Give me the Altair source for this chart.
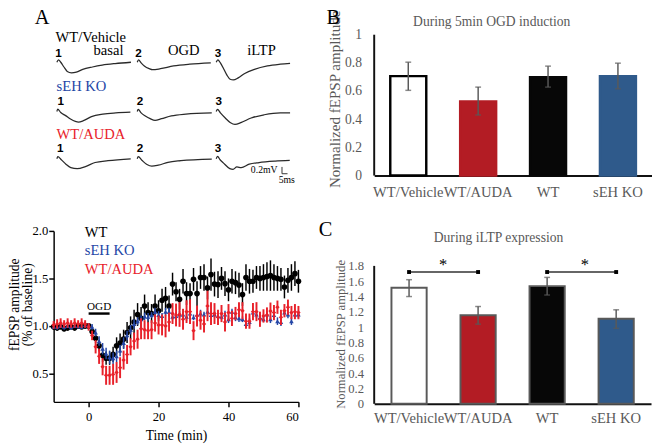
import altair as alt
import pandas as pd

SERIF = "Liberation Serif"
SANS = "Liberation Sans"
GRAY = "#595959"

# ---------------- Panel B / C : bar data ----------------
groups = ["WT/Vehicle", "WT/AUDA", "WT", "sEH KO"]
bar_fill = ["#ffffff", "#b31c24", "#070707", "#2f5a8b"]
bar_edge_b = ["#000000", "#b31c24", "#070707", "#2f5a8b"]

ogd_mean = [0.706, 0.526, 0.699, 0.706]
ogd_lo = [0.605, 0.430, 0.628, 0.616]
ogd_hi = [0.805, 0.628, 0.777, 0.798]

iltp_mean = [1.515, 1.155, 1.536, 1.110]
iltp_lo = [1.400, 1.040, 1.420, 0.985]
iltp_hi = [1.620, 1.270, 1.650, 1.227]

sig_pairs = [("WT/Vehicle", "WT/AUDA"), ("WT", "sEH KO")]
sig_level = 1.72

# ---------------- Time course data ----------------
times = list(range(-10, 61))
wt_mean = [0.99, 0.98, 0.99, 0.97, 0.98, 0.99, 0.98, 1.00, 0.99, 1.00,
           1.00,
           0.94, 0.87, 0.79, 0.69, 0.66, 0.66, 0.70, 0.79, 0.82, 0.86, 0.93, 0.98, 1.04, 1.12, 1.08,
           1.21, 1.14, 1.13, 1.21, 1.16, 1.27, 1.29, 1.21, 1.44, 1.36, 1.28, 1.47, 1.34, 1.34, 1.49,
           1.34, 1.51, 1.51, 1.40, 1.54, 1.44,
           1.435, 1.50, 1.445, 1.38, 1.47, 1.455, 1.43, 1.33, 1.51, 1.47, 1.47, 1.51, 1.50, 1.51,
           1.52, 1.53, 1.51, 1.50, 1.49, 1.41, 1.48, 1.51, 1.55, 1.47]
wt_err = [0.03, 0.03, 0.02, 0.03, 0.03, 0.02, 0.03, 0.03, 0.02, 0.03,
          0.03,
          0.04, 0.05, 0.06, 0.07, 0.07, 0.07, 0.08, 0.09, 0.10, 0.10, 0.11, 0.12, 0.13, 0.12, 0.12,
          0.12, 0.11, 0.10, 0.12, 0.11, 0.12, 0.12, 0.11, 0.12, 0.10, 0.11, 0.13, 0.12, 0.11, 0.12,
          0.13, 0.12, 0.14, 0.12, 0.17, 0.13,
          0.14, 0.12, 0.13, 0.12, 0.13, 0.12, 0.13, 0.12, 0.14, 0.13, 0.12, 0.12, 0.13, 0.14,
          0.15, 0.16, 0.14, 0.13, 0.12, 0.12, 0.13, 0.14, 0.13, 0.12]

ko_mean = [0.99, 0.99, 1.00, 0.99, 1.00, 0.99, 1.00, 1.00, 0.99, 1.01,
           1.00,
           0.99, 0.93, 0.84, 0.76, 0.71, 0.67, 0.66, 0.68, 0.74, 0.82, 0.90, 0.96, 1.02, 1.05, 1.07,
           1.10, 1.095, 1.115, 1.15, 1.115, 1.105, 1.15, 1.15, 1.095, 1.105, 1.12, 1.12, 1.095, 1.13,
           1.09, 1.12, 1.13, 1.12, 1.15, 1.115, 1.12,
           1.105, 1.095, 1.12, 1.07, 1.15, 1.09, 1.08, 1.07, 1.02, 1.04, 1.14, 1.12, 1.09, 1.07,
           1.12, 1.07, 1.115, 1.05, 1.04, 1.14, 1.12, 1.05, 1.12, 1.12]
ko_err = [0.02, 0.03, 0.02, 0.03, 0.02, 0.03, 0.02, 0.03, 0.02, 0.03,
          0.03,
          0.03, 0.04, 0.05, 0.06, 0.06, 0.07, 0.06, 0.06, 0.06, 0.06, 0.05, 0.05, 0.05, 0.04, 0.04,
          0.04, 0.04, 0.03, 0.04, 0.04, 0.03, 0.04, 0.04, 0.03, 0.04, 0.04, 0.03, 0.04, 0.04, 0.03,
          0.04, 0.04, 0.03, 0.04, 0.04, 0.03,
          0.04, 0.03, 0.04, 0.04, 0.03, 0.04, 0.04, 0.03, 0.04, 0.04, 0.03, 0.04, 0.04, 0.03,
          0.04, 0.04, 0.03, 0.04, 0.04, 0.03, 0.04, 0.04, 0.03, 0.04]

auda_mean = [1.01, 1.02, 1.03, 1.02, 1.03, 1.02, 1.03, 1.02, 1.03, 1.02,
             0.99,
             0.90, 0.78, 0.68, 0.57, 0.48, 0.48, 0.49, 0.51, 0.56, 0.64, 0.70, 0.78, 0.84, 0.86, 0.97,
             0.96, 0.95, 0.96, 1.03, 1.01, 1.01, 1.00, 1.04, 1.13, 1.115, 1.12, 1.07, 1.15, 1.15,
             0.95, 1.105, 1.06, 1.02, 1.21, 1.13, 1.13,
             1.09, 1.13, 1.04, 1.14, 1.08, 1.13, 1.17, 1.16, 1.05, 1.05, 1.15, 1.15, 1.07, 1.105,
             1.115, 1.156, 1.14, 1.197, 1.09, 1.16, 1.197, 1.14, 1.15, 1.14]
auda_err = [0.04, 0.05, 0.05, 0.04, 0.05, 0.04, 0.05, 0.04, 0.05, 0.04,
            0.04,
            0.05, 0.07, 0.08, 0.09, 0.10, 0.10, 0.11, 0.11, 0.11, 0.10, 0.10, 0.09, 0.09, 0.10, 0.11,
            0.10, 0.09, 0.10, 0.09, 0.10, 0.11, 0.12, 0.10, 0.11, 0.12, 0.13, 0.11, 0.12, 0.13,
            0.10, 0.11, 0.10, 0.09, 0.16, 0.12, 0.11,
            0.08, 0.09, 0.10, 0.09, 0.08, 0.07, 0.08, 0.09, 0.08, 0.08, 0.09, 0.10, 0.08, 0.07,
            0.08, 0.09, 0.08, 0.07, 0.08, 0.07, 0.08, 0.07, 0.08, 0.07]

ogd_window = [0, 6]
ogd_bar_level = 1.13

# ---------------- Panel A : example traces (ms, mV) ----------------
tr_veh_basal_ms = [0, 1.5, 3.5, 6.4, 9.4, 13.2, 17.6, 23.4, 32.2, 41, 52.7, 67]
tr_veh_basal_mv = [0, 0.07, 0, -0.14, -0.27, -0.31, -0.29, -0.21, -0.14, -0.086, -0.04, 0]
tr_veh_ogd_ms = [0, 1.2, 3.5, 6.4, 10.8, 13.8, 21, 32.8, 47.5, 66.5]
tr_veh_ogd_mv = [0, 0.07, -0.02, -0.11, -0.19, -0.22, -0.19, -0.11, -0.057, -0.02]
tr_veh_iltp_ms = [0, 1.5, 3.8, 6.7, 9.7, 12.6, 15.5, 19.9, 25.8, 34.6, 46.3, 58, 66.8]
tr_veh_iltp_mv = [0, 0.07, -0.02, -0.19, -0.38, -0.50, -0.52, -0.46, -0.33, -0.21, -0.11, -0.057, -0.03]
tr_ko_basal_ms = [0, 0.8, 3.5, 7.9, 12.3, 16.7, 19.6, 24, 31.3, 41.6, 53.3, 66.5]
tr_ko_basal_mv = [0, 0.07, -0.03, -0.12, -0.22, -0.29, -0.31, -0.27, -0.15, -0.076, -0.04, -0.02]
tr_ko_ogd_ms = [0, 0.9, 3.5, 7.3, 11.7, 16.1, 22, 30.8, 44, 67.4]
tr_ko_ogd_mv = [0, 0.06, -0.04, -0.13, -0.21, -0.26, -0.21, -0.13, -0.076, -0.04]
tr_ko_iltp_ms = [0, 1.2, 3.8, 8.2, 12.6, 17, 22.8, 31.6, 43.4, 58, 66.8]
tr_ko_iltp_mv = [0, 0.06, -0.04, -0.19, -0.32, -0.38, -0.32, -0.19, -0.095, -0.04, -0.04]
tr_auda_basal_ms = [0, 0.9, 3.8, 8.2, 12.6, 18.4, 25.8, 34.6, 46.3, 66.8]
tr_auda_basal_mv = [0, 0.06, -0.02, -0.16, -0.26, -0.29, -0.23, -0.11, -0.057, 0]
tr_auda_ogd_ms = [0, 0.9, 4.4, 8.8, 13.2, 19, 27.8, 39.5, 67.4]
tr_auda_ogd_mv = [0, 0.06, -0.05, -0.17, -0.22, -0.19, -0.105, -0.057, -0.01]
tr_auda_iltp_ms = [0, 1.2, 3.5, 6.4, 12.3, 15.2, 18.7, 22.6, 29.9, 38.7, 53.3, 66.5]
tr_auda_iltp_mv = [0, 0.07, -0.03, -0.12, -0.29, -0.31, -0.24, -0.26, -0.16, -0.11, -0.067, -0.048]

scalebar_ms = 5
scalebar_mv = 0.2

# layout of the trace grid (sweep start in ms along the panel, row baseline in mV)
sweep_start_ms = [2.9, 75.6, 147.0]
row_base_mv = [-0.81, -2.26, -3.65]
traces = [
    (0, 0, tr_veh_basal_ms, tr_veh_basal_mv), (0, 1, tr_veh_ogd_ms, tr_veh_ogd_mv),
    (0, 2, tr_veh_iltp_ms, tr_veh_iltp_mv),
    (1, 0, tr_ko_basal_ms, tr_ko_basal_mv), (1, 1, tr_ko_ogd_ms, tr_ko_ogd_mv),
    (1, 2, tr_ko_iltp_ms, tr_ko_iltp_mv),
    (2, 0, tr_auda_basal_ms, tr_auda_basal_mv), (2, 1, tr_auda_ogd_ms, tr_auda_ogd_mv),
    (2, 2, tr_auda_iltp_ms, tr_auda_iltp_mv),
]
rows = []
for r, c, ms, mv in traces:
    for i, (a, b) in enumerate(zip(ms, mv)):
        rows.append({"trace": f"{r}-{c}", "i": i,
                     "x": sweep_start_ms[c] + a, "y": row_base_mv[r] + b})
trace_df = pd.DataFrame(rows)


def label(text, px, py, size=15, color="#000000", font=SERIF, weight="normal",
          align="left", baseline="middle", angle=0):
    return alt.Chart(pd.DataFrame({"t": [text]})).mark_text(
        font=font, fontSize=size, color=color, fontWeight=weight, align=align,
        baseline=baseline, angle=angle).encode(text="t:N", x=alt.value(px), y=alt.value(py))


# ---------------- Panel A ----------------
ax_x = alt.X("x:Q", scale=alt.Scale(domain=[0, 224], nice=False), axis=None)
ax_y = alt.Y("y:Q", scale=alt.Scale(domain=[-4.43, 0], nice=False), axis=None)
trace_lines = alt.Chart(trace_df).mark_line(color="#2a2a2a", strokeWidth=1.3,
                                            interpolate="monotone").encode(
    x=ax_x, y=ax_y, detail="trace:N", order="i:Q")

sb = pd.DataFrame({"x": [206.5], "y": [-4.09]})
sb_v = alt.Chart(sb).mark_rule(color="#333", strokeWidth=1).encode(
    x=ax_x, y=ax_y, y2=alt.datum(-4.09 + scalebar_mv))
sb_h = alt.Chart(sb).mark_rule(color="#333", strokeWidth=1).encode(
    x=ax_x, x2=alt.datum(206.5 + scalebar_ms), y=ax_y)

a_labels = [
    label("A", -12, -11, size=21, align="center", baseline="alphabetic"),
    label("WT/Vehicle", 2, 2),
    label("basal", 56.5, 16, align="center"),
    label("OGD", 134, 16, align="center"),
    label("iLTP", 214, 16, align="center"),
    label("sEH KO", 3, 53.3, color="#2446a6"),
    label("WT/AUDA", 3, 102.3, color="#e8212a"),
    label("0.2mV", 230.5, 139, size=10, align="right"),
    label("5ms", 240, 150, size=10, align="center"),
]
for (py, xs) in [(18.5, [5, 87.3, 169.3]), (68.3, [7.3, 89, 170]), (116.7, [6.7, 89, 169.3])]:
    for k, px in enumerate(xs):
        a_labels.append(label(str(k + 1), px, py, size=12, font=SANS, weight="bold",
                              align="center"))

panel_a = alt.layer(trace_lines, sb_v, sb_h, *a_labels).properties(width=255, height=155)

# ---------------- Time course panel ----------------
TSCALE_X = alt.Scale(domain=[-10, 60], nice=False)
tx_axis = alt.Axis(values=[0, 20, 40, 60], format="d", title="Time (min)",
                   tickSize=5, labelPadding=4, titlePadding=6,
                   domainColor="#000", domainWidth=1.5, tickColor="#000", tickWidth=1.5,
                   labelFont=SERIF, labelFontSize=13, labelColor="#000",
                   titleFont=SERIF, titleFontSize=14, titleFontWeight="normal",
                   titleColor="#000")
ty_axis = alt.Axis(values=[0.5, 1.0, 1.5, 2.0], format=".1f", title=None,
                   tickSize=5, labelPadding=1, domainColor="#000", domainWidth=1.5,
                   tickColor="#000", tickWidth=1.5, labelFont=SERIF, labelFontSize=13,
                   labelColor="#000")
tscale = alt.Scale(domain=[0.2, 2.0], nice=False)


def TX(field):
    return alt.X(field, scale=TSCALE_X, axis=tx_axis, title="Time (min)")


def TY(field):
    return alt.Y(field, scale=tscale, axis=ty_axis, title=None)


def series(mean, err, color, shape, size, ew):
    df = pd.DataFrame({"t": times, "m": mean,
                       "lo": [a - b for a, b in zip(mean, err)],
                       "hi": [a + b for a, b in zip(mean, err)]})
    base = alt.Chart(df)
    bars = base.mark_rule(color=color, strokeWidth=ew).encode(
        x=TX("t:Q"), y=TY("lo:Q"), y2="hi:Q")
    pts = base.mark_point(color=color, fill=color, filled=True, shape=shape, size=size,
                          opacity=1).encode(x=TX("t:Q"), y=TY("m:Q"))
    return [bars, pts]


ogd_df = pd.DataFrame({"s": [ogd_window[0]], "e": [ogd_window[1]], "y": [ogd_bar_level]})
ogd_rule = alt.Chart(ogd_df).mark_rule(color="#000", strokeWidth=2.5).encode(
    x=TX("s:Q"), x2="e:Q", y=TY("y:Q"))
ogd_text = alt.Chart(ogd_df).mark_text(font=SERIF, fontSize=11.5, baseline="bottom",
                                       dy=-2).encode(
    x=TX("mid:Q"), y=TY("y:Q"), text=alt.value("OGD")
).transform_calculate(mid="(datum.s + datum.e) / 2")

panel_tc = alt.layer(
    *series(wt_mean, wt_err, "#000000", "circle", 34, 1.5),
    *series(ko_mean, ko_err, "#2446a6", "triangle-up", 22, 1.5),
    *series(auda_mean, auda_err, "#e8212a", "diamond", 20, 2),
    ogd_rule, ogd_text,
    label("WT", 32, 1),
    label("sEH KO", 32, 20, color="#2446a6"),
    label("WT/AUDA", 32, 39, color="#e8212a"),
    label("fEPSP amplitude", -39.5, 76, size=14, align="center", angle=270),
    label("(% of baseline)", -26.5, 76, size=14, align="center", angle=270),
).properties(width=252, height=176)


# ---------------- Bar panels ----------------
def bar_panel(mean, lo, hi, ymax, ytop, yvals, ytitle, ytitle_size, ytitle_x, ytitle_y,
              ylab_size, ylab_pad, xlab_pad, edge_scale, edge_w, p_in, p_out, extra=()):
    df = pd.DataFrame({"group": groups, "m": mean, "lo": lo, "hi": hi})
    bscale = alt.Scale(domain=groups, paddingInner=p_in, paddingOuter=p_out)
    baxis = alt.Axis(title=None, labelAngle=0, labelFont=SERIF, labelFontSize=15,
                     labelColor=GRAY, ticks=False, tickSize=0, labelPadding=xlab_pad,
                     domainColor="#111", domainWidth=2, labelOverlap=False)
    yaxis = alt.Axis(values=yvals, format="~g", title=ytitle, ticks=False, tickSize=0,
                     labelPadding=ylab_pad, labelFont=SERIF, labelFontSize=ylab_size,
                     labelColor=GRAY, domain=False, labelOverlap=False,
                     titleFont=SERIF, titleFontSize=ytitle_size, titleFontWeight="normal",
                     titleColor=GRAY, titleX=ytitle_x, titleY=ytitle_y,
                     titleBaseline="middle")
    ysc = alt.Scale(domain=[0, ytop], nice=False)

    def BX(field):
        return alt.X(field, scale=bscale, axis=baxis, title=None)

    def BY(field):
        return alt.Y(field, scale=ysc, axis=yaxis, title=ytitle)

    base = alt.Chart(df)
    bars = base.mark_bar(strokeWidth=edge_w).encode(
        x=BX("group:N"), y=BY("m:Q"),
        fill=alt.Fill("group:N", scale=alt.Scale(domain=groups, range=bar_fill), legend=None),
        stroke=edge_scale)
    err = base.mark_rule(color=GRAY, strokeWidth=1.5).encode(
        x=BX("group:N"), y=BY("lo:Q"), y2="hi:Q")
    cap_lo = base.mark_tick(color=GRAY, thickness=1.5, size=6).encode(
        x=BX("group:N"), y=BY("lo:Q"))
    cap_hi = base.mark_tick(color=GRAY, thickness=1.5, size=6).encode(
        x=BX("group:N"), y=BY("hi:Q"))
    axis_df = pd.DataFrame({"a": [0.0], "b": [float(ymax)]})
    yline = alt.Chart(axis_df).mark_rule(color="#111", strokeWidth=2).encode(
        x=alt.value(0), y=BY("a:Q"), y2="b:Q")
    layers = [bars, err, cap_lo, cap_hi, yline]
    for e in extra:
        layers.append(e(BX, BY))
    return layers


B_YT = "Normalized  fEPSP amplitude"

b_layers = bar_panel(
    ogd_mean, ogd_lo, ogd_hi, 1, 1, [0, 0.2, 0.4, 0.6, 0.8, 1],
    B_YT, 15.5, -41, 66, 14, 13, 10,
    alt.Stroke("group:N", scale=alt.Scale(domain=groups, range=bar_edge_b), legend=None),
    2.5, 0.485, 0.23)
panel_b = alt.layer(
    *b_layers,
    label("During 5min OGD induction", 121, -13, size=14, color=GRAY, align="center"),
    label("B", -42, -11, size=21, align="center", baseline="alphabetic"),
).properties(width=286, height=145)

sig_df = pd.DataFrame({"g1": [p[0] for p in sig_pairs], "g2": [p[1] for p in sig_pairs],
                       "y": [sig_level] * len(sig_pairs)})
end_df = pd.DataFrame({"group": [g for p in sig_pairs for g in p],
                       "y": [sig_level] * 4})


def sig_rule(BX, BY):
    return alt.Chart(sig_df).mark_rule(color="#333", strokeWidth=1.5).encode(
        x=BX("g1:N"), x2="g2:N", y=BY("y:Q"))


def sig_ends(BX, BY):
    return alt.Chart(end_df).mark_square(color="#000", size=16, opacity=1).encode(
        x=BX("group:N"), y=BY("y:Q"))


# C's plot box starts 36 px above its 1.8 line (to line up with the time-course row)
C_TOP = 1.8 + 36 / (142 / 1.8)
c_layers = bar_panel(
    iltp_mean, iltp_lo, iltp_hi, 1.8, C_TOP, [0, 0.2, 0.4, 0.6, 0.8, 1, 1.2, 1.4, 1.6, 1.8],
    B_YT, 13, -35, 106, 13, 11, 7,
    alt.value(GRAY), 2, 0.49, 0.25, extra=(sig_rule, sig_ends))
panel_c = alt.layer(
    *c_layers,
    label("*", 71, 35, size=17, align="center"),
    label("*", 217, 35, size=17, align="center"),
    label("During iLTP expression", 128, 7, size=14, color=GRAY, align="center"),
    label("C", -50, 5, size=21, align="center", baseline="alphabetic"),
).properties(width=285, height=178)

chart = alt.concat(panel_a, panel_b, panel_tc, panel_c, columns=2,
                   spacing={"row": 47, "column": 75}, bounds="flush").resolve_scale(
    fill="independent", stroke="independent"
).properties(padding={"left": 0, "top": -7, "right": 0, "bottom": 0}).configure(
    font=SERIF).configure_view(stroke=None).configure_axis(grid=False)

chart.save("out.html", embed_options={"renderer": "svg", "actions": False})
